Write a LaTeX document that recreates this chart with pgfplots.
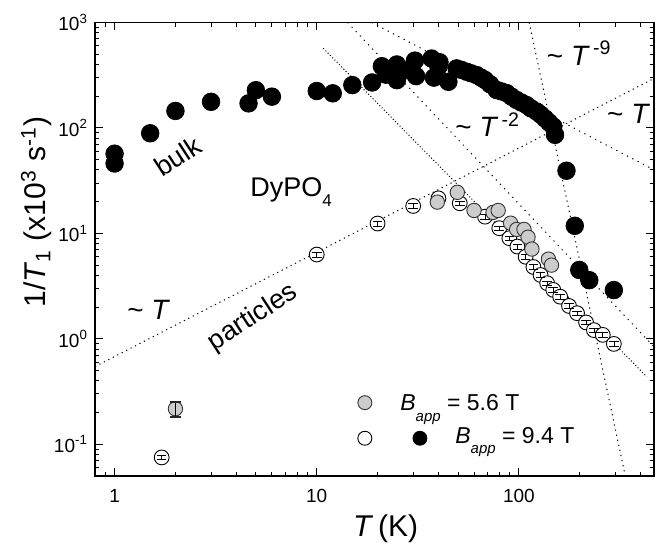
\documentclass[border=0pt]{standalone}
\usepackage{pgfplots}
\pgfplotsset{compat=1.18}
\usepackage{pgfplotstable}
\usepackage{fontspec}
\setmainfont{Liberation Sans}
\definecolor{fillgray}{gray}{0.8}

% bulk sample, B_app = 9.4 T
\pgfplotstableread{
T R
1.0 57
1.0 46
1.5 89
2.0 145
3.0 177
4.6 171
5.0 228
6.0 198
10 224
12 213
15 255
18.8 270
21 385
22 320
24.9 400
24.9 284
27 350
30.6 435
31 310
37 455
38 300
40 380
40.5 420
44.8 274
49.2 367
52 355
55.2 341
58 330
61.8 317
65 300
68 285
72 260
77.6 229
82 222
87 214
92 198
97.5 184
103 174
109 165
115 153
122.5 143
128 134
134.6 123
141 113
148 103
151 86
172 39.3
189 11.8
199 4.5
223 3.6
295 2.9
}\bulk

% particles, B_app = 9.4 T
\pgfplotstableread{
T R
1.71 0.075
10 6.3
20 12.4
30 18.2
40 21.5
51 19.3
68 14.4
80 11.2
89.7 9.0
98.3 7.5
108 6.0
118 4.8
128 4.03
138 3.37
148 2.91
160 2.51
177 2.05
194 1.75
215 1.43
235 1.21
260 1.09
295 0.895
}\partHigh

% particles, B_app = 5.6 T
\pgfplotstableread{
T R
39.5 19.8
49.6 24.5
60 16.5
74.5 15.8
79 16.5
91 12.5
97.5 10.9
106 10.9
111 9.2
116 7.1
140 5.7
145 5.0
}\partLow

\begin{document}
\begin{tikzpicture}
\begin{axis}[
  name=ax,
  scale only axis, width=279.5pt, height=226.75pt,
  xmode=log, ymode=log,
  xmin=0.8, xmax=466, ymin=0.05, ymax=1000,
  xtick={1,10,100}, xticklabels={1,10,100},
  minor xtick={0.8,0.9,2,3,4,5,6,7,8,9,20,30,40,50,60,70,80,90,200,300,400},
  ytick={0.1,1,10,100,1000},
  yticklabels={10\textsuperscript{-1},10\textsuperscript{0},10\textsuperscript{1},10\textsuperscript{2},10\textsuperscript{3}},
  minor ytick={0.05,0.06,0.07,0.08,0.09,0.2,0.3,0.4,0.5,0.6,0.7,0.8,0.9,2,3,4,5,6,7,8,9,20,30,40,50,60,70,80,90,200,300,400,500,600,700,800,900},
  tick align=inside,
  major tick length=4pt, minor tick length=2.2pt,
  tick style={line width=0.5pt, black},
  axis line style={line width=0.8pt},
  ticklabel style={font=\fontsize{9.5}{11}\selectfont},
  xticklabel style={yshift=-3pt},
  xlabel={\textit{T}\,(K)},
  xlabel style={font=\fontsize{15}{18}\selectfont, at={(axis description cs:0.52,0)}, anchor=base, yshift=-30pt},
  ylabel={1/\textit{T}\textsubscript{1} (x10\textsuperscript{3} s\textsuperscript{-1})},
  ylabel style={font=\fontsize{15}{18}\selectfont, at={(axis description cs:-0.0877,0.582)}, anchor=base},
  clip=true,
  clip marker paths=true,
]

% guide lines
\addplot[black, line width=0.5pt, dash pattern=on 0.6pt off 1.9pt] coordinates {(0.8,0.545) (466,295)};
\addplot[black, line width=0.5pt, dash pattern=on 0.5pt off 1.1pt] coordinates {(10.78,569) (429,0.438)};
\addplot[black, line width=0.5pt, dash pattern=on 0.6pt off 2.4pt] coordinates {(14.2,1000) (466,0.84)};
\addplot[black, line width=0.5pt, dash pattern=on 0.6pt off 2.4pt] coordinates {(18.7,1000) (466,40)};
\addplot[black, line width=0.5pt, dash pattern=on 0.6pt off 2.0pt] coordinates {(112.5,1000) (336,0.05)};

% particles, 9.4 T: open circles, then their error bars on top
\addplot[only marks, mark=*, mark size=3.7pt, mark options={fill=white, draw=black, line width=0.45pt}] table[x=T, y=R] {\partHigh};
\addplot[draw=none, mark=none, forget plot,
  error bars/.cd, y dir=both, y fixed relative=0.05, error mark=-,
  error bar style={draw=black, solid, line width=0.35pt},
  error mark options={rotate=90, draw=black, solid, mark size=2.4pt, line width=0.35pt}]
  table[x=T, y=R] {\partHigh};

% particles, 5.6 T
\addplot[only marks, mark=*, mark size=3.6pt, mark options={fill=fillgray, draw=black!80, line width=0.45pt}] coordinates {(2.0,0.217)};
\addplot[draw=none, mark=none, forget plot,
  error bars/.cd, y dir=both, y fixed relative=0.16, error mark=-,
  error bar style={draw=none},
  error mark options={rotate=90, draw=black!85, solid, mark size=2.6pt, line width=0.8pt}]
  coordinates {(2.0,0.217)};
\addplot[only marks, mark=*, mark size=3.6pt, mark options={fill=fillgray, draw=black!80, line width=0.45pt}] table[x=T, y=R] {\partLow};

% bulk, 9.4 T
\addplot[only marks, mark=*, mark size=4.4pt, mark options={fill=black, draw=black}] table[x=T, y=R] {\bulk};

% key
\addplot[only marks, mark=*, mark size=3.5pt, mark options={fill=fillgray, draw=black!80, line width=0.45pt}] coordinates {(17.3,0.248)};
\addplot[only marks, mark=*, mark size=3.5pt, mark options={fill=white, draw=black, line width=0.45pt}] coordinates {(17.3,0.114)};
\addplot[only marks, mark=*, mark size=3.5pt, mark options={fill=black, draw=black}] coordinates {(32.4,0.114)};
\node[anchor=base west, font=\fontsize{11.5}{13}\selectfont, inner sep=0pt] at (axis cs:25.8,0.207)
  {\textit{B}\raisebox{-0.45em}{\fontsize{7.5}{8}\selectfont\itshape app} = 5.6 T};
\node[anchor=base west, font=\fontsize{11.5}{13}\selectfont, inner sep=0pt] at (axis cs:48.3,0.102)
  {\textit{B}\raisebox{-0.45em}{\fontsize{7.5}{8}\selectfont\itshape app} = 9.4 T};

% annotations
\node[rotate=33, font=\fontsize{13.5}{16}\selectfont] at (axis cs:2.05,54) {bulk};
\node[anchor=base west, inner sep=0pt, font=\fontsize{13.5}{16}\selectfont] at (axis cs:4.68,22.3)
  {DyPO\raisebox{-0.35em}{\fontsize{8.5}{9}\selectfont 4}};
\node[rotate=33, font=\fontsize{13.5}{16}\selectfont] at (axis cs:4.84,1.58) {particles};
\node[anchor=base west, inner sep=0pt, font=\fontsize{14}{16}\selectfont] at (axis cs:1.15,1.51) {\textasciitilde\ \textit{T}};
\node[anchor=base west, inner sep=0pt, font=\fontsize{14}{16}\selectfont] at (axis cs:48.3,82.6) {\textasciitilde\ \textit{T}\textsuperscript{\,-2}};
\node[anchor=base west, inner sep=0pt, font=\fontsize{14}{16}\selectfont] at (axis cs:137,395) {\textasciitilde\ \textit{T}\textsuperscript{\,-9}};
\node[anchor=base west, inner sep=0pt, font=\fontsize{14}{16}\selectfont] at (axis cs:272,110.6) {\textasciitilde\ \textit{T}};
\end{axis}
\pgfresetboundingbox
\path ([shift={(-47.5pt,-36pt)}]ax.south west) rectangle ([shift={(3pt,11.25pt)}]ax.north east);
\end{tikzpicture}
\end{document}
